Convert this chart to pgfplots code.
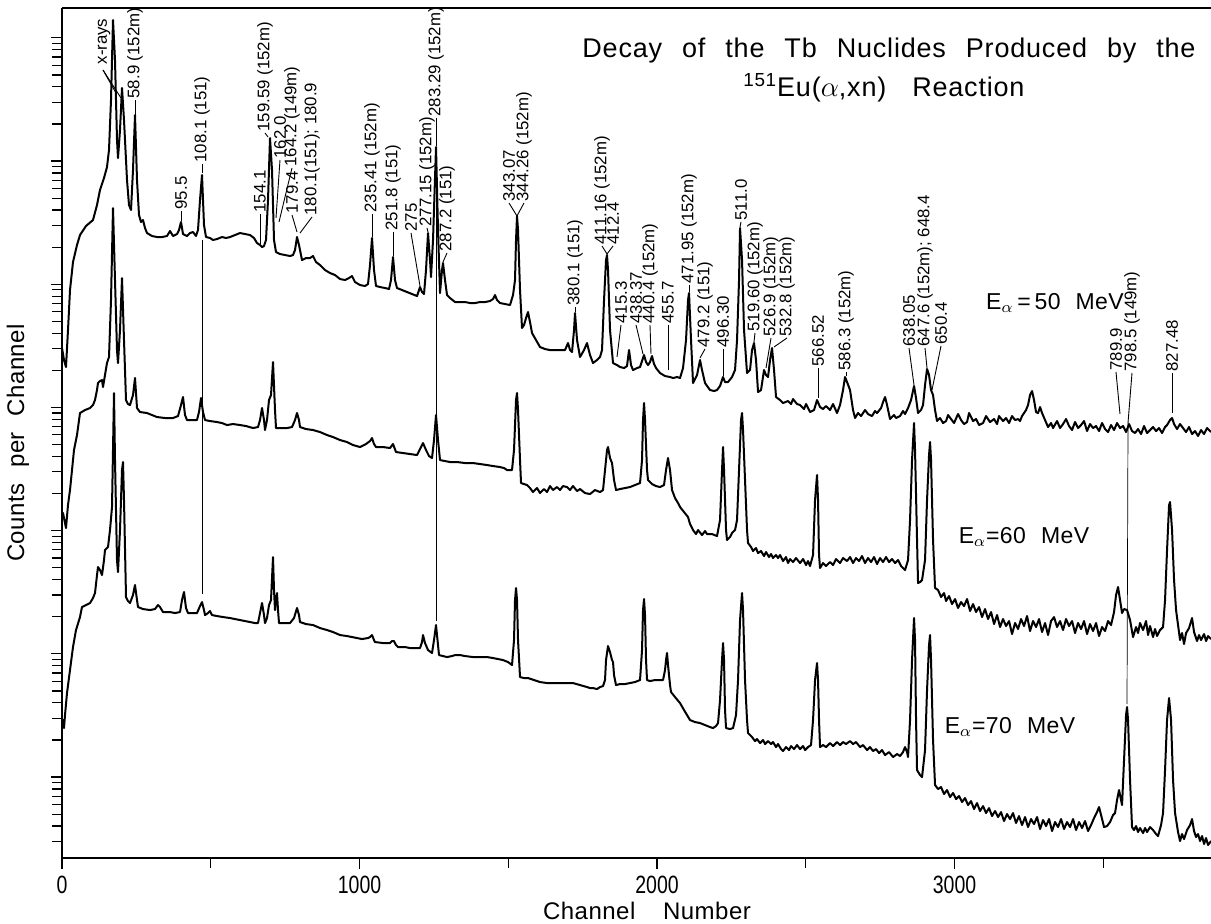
\documentclass[border=0pt]{standalone}
\usepackage{fontspec}
\setmainfont{Liberation Sans}
\newfontfamily\titlefont[WordSpace=2.4,LetterSpace=3]{Liberation Sans}
\newfontfamily\widefont[WordSpace=2.2,LetterSpace=2]{Liberation Sans}
\usepackage{pgfplots}
\pgfplotsset{compat=1.18}
\usepackage{pgfplotstable}
\newcommand\lf{\fontsize{8.4}{9}\selectfont}

% spectra: column 0 = horizontal position, column 1 = vertical position (picture units)
\pgfplotstableread[header=false,row sep=\\]{
62 348\\ 64 360\\ 66 367\\ 68 330\\ 70 290\\ 73 262\\ 77 245\\ 80 235\\ 86 226\\ 93 220\\ 97 205\\ 100 190\\ 104 178\\ 107 167\\ 109 150\\ 111 100\\ 113 20\\ 115 60\\ 117 140\\ 118 158\\ 120 130\\ 122 88\\ 124 120\\ 127 180\\ 129 205\\ 131 210\\ 133 170\\ 135 115\\ 137 180\\ 139 215\\ 141 222\\ 143 220\\ 145 228\\ 147 233\\ 152 236\\ 157 237\\ 162 237\\ 167 236\\ 170 231\\ 173 236\\ 177 234\\ 179 230\\ 181 222\\ 183 234\\ 187 236\\ 190 233\\ 193 232\\ 196 236\\ 198 230\\ 200 200\\ 202 175\\ 204 225\\ 206 237\\ 210 238\\ 213 240\\ 217 239\\ 222 237\\ 226 238\\ 230 237\\ 235 235\\ 240 233\\ 245 234\\ 250 235\\ 254 238\\ 257 243\\ 260 245\\ 262 247\\ 264 246\\ 266 240\\ 268 200\\ 270 138\\ 272 170\\ 274 240\\ 276 252\\ 280 254\\ 285 255\\ 290 256\\ 293 255\\ 295 250\\ 297 237\\ 299 245\\ 302 260\\ 306 258\\ 310 258\\ 313 256\\ 316 262\\ 320 265\\ 325 270\\ 330 273\\ 335 275\\ 340 279\\ 345 280\\ 349 278\\ 352 276\\ 355 282\\ 360 285\\ 365 286\\ 368 284\\ 370 265\\ 372 238\\ 374 270\\ 376 286\\ 380 287\\ 385 288\\ 389 289\\ 391 280\\ 393 257\\ 395 280\\ 397 288\\ 402 290\\ 407 292\\ 412 294\\ 417 296\\ 420 287\\ 422 292\\ 424 294\\ 426 270\\ 428 233\\ 430 260\\ 431 277\\ 433 240\\ 436 147\\ 438 230\\ 440 293\\ 442 270\\ 443 263\\ 445 280\\ 447 295\\ 450 298\\ 455 302\\ 460 302\\ 465 302\\ 470 303\\ 475 303\\ 480 302\\ 485 302\\ 490 301\\ 493 299\\ 495 295\\ 497 300\\ 500 303\\ 505 304\\ 510 305\\ 513 295\\ 515 280\\ 516 240\\ 517 216\\ 518 230\\ 520 290\\ 522 328\\ 524 325\\ 526 318\\ 528 312\\ 530 322\\ 532 333\\ 536 340\\ 540 347\\ 545 349\\ 550 350\\ 555 350\\ 560 350\\ 565 350\\ 568 343\\ 570 350\\ 572 352\\ 574 330\\ 575 313\\ 577 340\\ 580 357\\ 584 350\\ 587 343\\ 590 355\\ 593 363\\ 597 360\\ 600 357\\ 602 350\\ 604 300\\ 606 260\\ 607 255\\ 608 270\\ 610 330\\ 613 363\\ 617 365\\ 620 367\\ 624 368\\ 627 366\\ 629 350\\ 631 365\\ 633 370\\ 637 368\\ 640 367\\ 644 355\\ 646 362\\ 648 365\\ 650 362\\ 652 356\\ 654 364\\ 656 368\\ 660 373\\ 665 376\\ 670 377\\ 673 378\\ 677 377\\ 680 378\\ 683 368\\ 686 340\\ 688 300\\ 689 293\\ 691 340\\ 693 383\\ 697 375\\ 700 360\\ 702 370\\ 705 383\\ 710 390\\ 714 391\\ 717 390\\ 720 386\\ 723 377\\ 725 382\\ 728 382\\ 732 377\\ 735 370\\ 737 340\\ 739 280\\ 740 228\\ 742 260\\ 744 330\\ 747 373\\ 750 370\\ 752 350\\ 754 343\\ 756 360\\ 758 392\\ 761 390\\ 764 370\\ 766 375\\ 768 377\\ 770 360\\ 772 348\\ 774 370\\ 776 397\\ 780 400\\ 783 403\\ 788 401\\ 791 404\\ 793 399\\ 797 404\\ 800 405\\ 804 409\\ 806 404\\ 810 412\\ 814 410\\ 817 400\\ 820 407\\ 823 409\\ 826 406\\ 830 410\\ 833 404\\ 837 413\\ 840 405\\ 843 390\\ 845 377\\ 847 382\\ 850 390\\ 853 410\\ 855 418\\ 858 413\\ 861 416\\ 865 410\\ 868 414\\ 872 416\\ 875 411\\ 877 413\\ 881 408\\ 883 402\\ 885 397\\ 887 405\\ 890 419\\ 894 415\\ 896 418\\ 900 416\\ 903 411\\ 905 414\\ 908 408\\ 911 400\\ 914 386\\ 916 398\\ 918 413\\ 921 410\\ 923 405\\ 925 385\\ 927 369\\ 929 375\\ 931 390\\ 933 395\\ 935 410\\ 937 421\\ 940 418\\ 943 423\\ 946 421\\ 948 415\\ 951 419\\ 954 423\\ 958 414\\ 961 420\\ 964 424\\ 967 422\\ 969 413\\ 973 421\\ 976 419\\ 979 425\\ 983 423\\ 986 416\\ 990 422\\ 994 419\\ 997 424\\ 999 416\\ 1003 421\\ 1006 418\\ 1009 423\\ 1012 416\\ 1015 420\\ 1018 419\\ 1020 421\\ 1022 416\\ 1026 410\\ 1028 405\\ 1030 395\\ 1032 391\\ 1034 400\\ 1036 412\\ 1038 413\\ 1040 407\\ 1042 413\\ 1045 420\\ 1048 427\\ 1051 423\\ 1053 428\\ 1057 421\\ 1060 428\\ 1063 424\\ 1066 419\\ 1069 426\\ 1072 430\\ 1075 422\\ 1078 428\\ 1081 425\\ 1084 421\\ 1087 431\\ 1090 424\\ 1093 428\\ 1096 426\\ 1099 431\\ 1102 423\\ 1105 429\\ 1108 432\\ 1111 425\\ 1114 430\\ 1117 423\\ 1120 428\\ 1123 426\\ 1126 432\\ 1129 424\\ 1132 431\\ 1135 433\\ 1138 429\\ 1141 434\\ 1144 426\\ 1147 433\\ 1150 430\\ 1153 427\\ 1156 431\\ 1159 428\\ 1162 433\\ 1165 427\\ 1167 425\\ 1170 420\\ 1172 418\\ 1174 424\\ 1177 429\\ 1180 424\\ 1183 428\\ 1186 432\\ 1189 427\\ 1192 434\\ 1195 431\\ 1198 436\\ 1201 430\\ 1204 434\\ 1207 428\\ 1211 432\\
}\specA

\pgfplotstableread[header=false,row sep=\\]{
62 517\\ 63 513\\ 65 523\\ 66 528\\ 68 505\\ 70 490\\ 72 470\\ 74 450\\ 77 435\\ 80 413\\ 85 410\\ 90 408\\ 93 405\\ 95 400\\ 97 390\\ 98 383\\ 100 381\\ 102 380\\ 103 387\\ 105 375\\ 107 363\\ 109 357\\ 111 300\\ 113 208\\ 115 280\\ 117 350\\ 118 363\\ 120 330\\ 122 278\\ 124 340\\ 126 400\\ 128 404\\ 130 405\\ 133 395\\ 135 378\\ 137 408\\ 140 412\\ 147 413\\ 152 415\\ 157 417\\ 165 418\\ 173 418\\ 178 416\\ 181 405\\ 183 397\\ 185 415\\ 187 420\\ 192 420\\ 197 420\\ 199 412\\ 201 398\\ 203 412\\ 205 420\\ 210 421\\ 217 422\\ 222 423\\ 227 425\\ 233 424\\ 240 425\\ 246 426\\ 253 428\\ 258 427\\ 260 420\\ 262 408\\ 264 420\\ 265 430\\ 267 420\\ 269 400\\ 271 395\\ 273 362\\ 275 410\\ 276 428\\ 280 428\\ 287 428\\ 292 427\\ 295 420\\ 297 413\\ 299 420\\ 300 427\\ 306 429\\ 313 430\\ 320 432\\ 327 435\\ 333 437\\ 340 440\\ 347 442\\ 353 445\\ 360 447\\ 366 444\\ 370 441\\ 372 438\\ 374 444\\ 376 447\\ 383 447\\ 390 448\\ 393 444\\ 396 452\\ 403 453\\ 410 454\\ 417 455\\ 420 449\\ 423 443\\ 426 450\\ 429 456\\ 432 458\\ 434 440\\ 436 415\\ 438 440\\ 440 460\\ 445 461\\ 450 462\\ 457 462\\ 465 463\\ 473 463\\ 480 464\\ 487 465\\ 493 466\\ 500 467\\ 504 468\\ 507 470\\ 512 470\\ 514 450\\ 516 400\\ 517 393\\ 518 410\\ 520 460\\ 521 483\\ 524 484\\ 527 485\\ 530 488\\ 533 492\\ 537 488\\ 540 493\\ 544 489\\ 547 492\\ 550 486\\ 553 490\\ 557 487\\ 560 490\\ 563 486\\ 567 487\\ 570 490\\ 573 486\\ 577 491\\ 580 489\\ 585 493\\ 590 494\\ 595 490\\ 600 492\\ 603 490\\ 605 470\\ 607 450\\ 608 447\\ 610 458\\ 612 463\\ 614 480\\ 616 490\\ 620 489\\ 625 488\\ 630 487\\ 635 485\\ 640 483\\ 642 460\\ 643 420\\ 644 403\\ 645 420\\ 647 470\\ 648 480\\ 652 484\\ 656 486\\ 660 487\\ 664 485\\ 666 470\\ 668 458\\ 670 470\\ 672 490\\ 675 498\\ 678 503\\ 680 507\\ 684 512\\ 688 517\\ 690 524\\ 693 530\\ 696 534\\ 698 530\\ 702 535\\ 705 531\\ 707 534\\ 712 534\\ 717 536\\ 720 520\\ 722 470\\ 723 447\\ 724 470\\ 726 530\\ 727 540\\ 730 537\\ 732 533\\ 735 530\\ 737 520\\ 739 470\\ 741 420\\ 742 413\\ 743 430\\ 745 480\\ 747 530\\ 748 543\\ 751 547\\ 753 551\\ 756 548\\ 758 553\\ 761 551\\ 764 556\\ 766 552\\ 769 557\\ 771 554\\ 773 558\\ 776 555\\ 778 558\\ 780 555\\ 783 561\\ 786 557\\ 788 563\\ 790 559\\ 793 562\\ 796 558\\ 800 563\\ 803 559\\ 806 565\\ 808 561\\ 810 566\\ 813 555\\ 815 500\\ 817 475\\ 818 500\\ 819 555\\ 820 568\\ 823 563\\ 826 566\\ 830 562\\ 833 565\\ 836 559\\ 840 563\\ 843 558\\ 847 561\\ 850 557\\ 853 563\\ 856 558\\ 859 561\\ 862 556\\ 865 563\\ 868 558\\ 871 562\\ 874 557\\ 877 564\\ 880 558\\ 883 562\\ 886 557\\ 889 562\\ 892 559\\ 895 563\\ 898 560\\ 901 566\\ 905 570\\ 908 560\\ 910 520\\ 912 460\\ 914 423\\ 915 450\\ 917 540\\ 918 583\\ 920 582\\ 922 580\\ 925 560\\ 927 500\\ 929 455\\ 930 442\\ 931 460\\ 933 540\\ 935 588\\ 938 590\\ 941 597\\ 944 593\\ 946 601\\ 949 596\\ 952 604\\ 955 599\\ 958 608\\ 961 602\\ 964 606\\ 967 599\\ 970 611\\ 973 604\\ 976 612\\ 979 607\\ 982 617\\ 985 609\\ 988 619\\ 991 612\\ 994 624\\ 997 615\\ 1000 627\\ 1003 619\\ 1006 626\\ 1009 621\\ 1012 634\\ 1015 623\\ 1018 629\\ 1021 619\\ 1024 626\\ 1027 616\\ 1030 631\\ 1033 621\\ 1036 627\\ 1039 619\\ 1042 632\\ 1045 623\\ 1048 635\\ 1051 621\\ 1054 617\\ 1057 627\\ 1060 621\\ 1063 630\\ 1066 619\\ 1069 626\\ 1072 621\\ 1075 633\\ 1078 623\\ 1081 629\\ 1084 621\\ 1087 634\\ 1090 624\\ 1093 631\\ 1096 623\\ 1099 636\\ 1102 627\\ 1105 631\\ 1108 621\\ 1111 625\\ 1114 612\\ 1116 595\\ 1118 587\\ 1120 600\\ 1122 613\\ 1124 609\\ 1127 610\\ 1130 620\\ 1133 637\\ 1136 627\\ 1138 633\\ 1140 623\\ 1143 630\\ 1146 621\\ 1148 635\\ 1150 626\\ 1153 637\\ 1155 629\\ 1157 636\\ 1160 630\\ 1163 627\\ 1165 600\\ 1167 550\\ 1169 505\\ 1170 502\\ 1172 530\\ 1174 580\\ 1176 610\\ 1178 625\\ 1180 640\\ 1182 633\\ 1184 644\\ 1186 633\\ 1189 628\\ 1192 618\\ 1194 632\\ 1197 641\\ 1199 635\\ 1201 640\\ 1204 634\\ 1206 641\\ 1208 636\\ 1211 639\\
}\specB

\pgfplotstableread[header=false,row sep=\\]{
62 722\\ 63 720\\ 64 728\\ 65 715\\ 67 693\\ 70 670\\ 73 647\\ 76 630\\ 80 617\\ 82 607\\ 86 605\\ 90 603\\ 93 598\\ 95 593\\ 97 575\\ 98 567\\ 100 570\\ 102 575\\ 104 560\\ 105 550\\ 108 547\\ 110 530\\ 112 507\\ 113 450\\ 114 393\\ 115 460\\ 117 560\\ 118 572\\ 120 530\\ 122 470\\ 123 462\\ 124 500\\ 126 597\\ 128 601\\ 130 603\\ 133 595\\ 135 585\\ 137 600\\ 138 607\\ 143 609\\ 150 610\\ 155 609\\ 158 605\\ 160 607\\ 163 612\\ 170 612\\ 175 613\\ 180 612\\ 182 600\\ 184 592\\ 186 608\\ 188 613\\ 193 613\\ 197 613\\ 200 606\\ 202 602\\ 204 610\\ 205 615\\ 208 613\\ 210 611\\ 212 615\\ 217 616\\ 223 617\\ 230 618\\ 235 619\\ 240 620\\ 245 621\\ 250 622\\ 255 623\\ 258 623\\ 260 613\\ 262 603\\ 264 615\\ 265 623\\ 267 618\\ 269 605\\ 271 600\\ 273 557\\ 274 590\\ 275 610\\ 276 600\\ 277 593\\ 278 610\\ 279 623\\ 284 623\\ 290 623\\ 294 618\\ 297 608\\ 299 615\\ 300 622\\ 306 624\\ 313 625\\ 320 628\\ 327 630\\ 333 632\\ 340 635\\ 347 636\\ 352 637\\ 357 638\\ 362 639\\ 368 638\\ 370 637\\ 372 635\\ 374 640\\ 375 642\\ 383 643\\ 390 643\\ 392 641\\ 394 641\\ 396 645\\ 398 647\\ 405 647\\ 410 648\\ 415 648\\ 420 648\\ 422 642\\ 423 635\\ 425 643\\ 428 650\\ 432 653\\ 434 640\\ 436 625\\ 438 645\\ 439 655\\ 443 656\\ 447 657\\ 452 656\\ 455 655\\ 460 655\\ 465 656\\ 473 657\\ 480 657\\ 487 657\\ 493 658\\ 498 659\\ 503 660\\ 508 662\\ 512 665\\ 514 640\\ 515 600\\ 516 588\\ 517 600\\ 518 640\\ 520 677\\ 524 678\\ 528 678\\ 534 680\\ 540 682\\ 547 683\\ 553 683\\ 560 683\\ 567 683\\ 573 683\\ 580 685\\ 587 687\\ 590 688\\ 593 688\\ 597 689\\ 600 687\\ 603 686\\ 605 680\\ 606 660\\ 608 646\\ 610 652\\ 612 660\\ 613 662\\ 614 675\\ 616 685\\ 620 684\\ 625 684\\ 630 683\\ 635 682\\ 640 680\\ 642 650\\ 643 610\\ 644 599\\ 645 615\\ 646 660\\ 647 680\\ 650 681\\ 655 680\\ 660 680\\ 663 680\\ 665 670\\ 666 660\\ 667 653\\ 668 665\\ 670 685\\ 671 692\\ 675 697\\ 680 703\\ 684 710\\ 687 715\\ 690 720\\ 695 722\\ 700 723\\ 705 725\\ 710 727\\ 713 728\\ 716 726\\ 718 723\\ 720 700\\ 722 660\\ 723 643\\ 724 660\\ 725 710\\ 726 728\\ 730 729\\ 733 728\\ 736 715\\ 738 680\\ 740 620\\ 742 593\\ 743 610\\ 745 680\\ 747 720\\ 748 733\\ 752 737\\ 755 741\\ 757 739\\ 760 743\\ 763 740\\ 765 744\\ 768 741\\ 771 744\\ 773 742\\ 776 747\\ 778 744\\ 781 749\\ 783 751\\ 786 747\\ 789 750\\ 791 746\\ 794 749\\ 797 745\\ 800 749\\ 803 746\\ 805 750\\ 808 747\\ 811 745\\ 813 720\\ 815 680\\ 817 663\\ 818 680\\ 819 720\\ 820 747\\ 823 745\\ 826 747\\ 830 743\\ 833 746\\ 837 742\\ 840 745\\ 843 742\\ 846 744\\ 850 741\\ 853 744\\ 856 742\\ 860 747\\ 863 745\\ 867 750\\ 870 747\\ 873 751\\ 876 749\\ 879 753\\ 882 750\\ 885 755\\ 889 752\\ 893 757\\ 897 754\\ 900 756\\ 903 752\\ 905 747\\ 907 752\\ 908 757\\ 910 720\\ 912 660\\ 914 618\\ 915 640\\ 916 720\\ 917 770\\ 920 775\\ 922 777\\ 925 750\\ 927 690\\ 929 645\\ 930 635\\ 931 660\\ 933 740\\ 935 785\\ 938 789\\ 941 787\\ 944 794\\ 947 790\\ 950 797\\ 953 793\\ 956 799\\ 959 796\\ 962 802\\ 965 798\\ 968 805\\ 971 801\\ 974 809\\ 977 803\\ 980 811\\ 983 806\\ 986 813\\ 989 808\\ 992 816\\ 995 811\\ 998 817\\ 1001 812\\ 1004 821\\ 1007 814\\ 1010 819\\ 1013 813\\ 1016 823\\ 1019 816\\ 1022 825\\ 1025 817\\ 1028 827\\ 1031 819\\ 1034 824\\ 1037 817\\ 1040 829\\ 1043 820\\ 1046 826\\ 1049 819\\ 1052 831\\ 1055 822\\ 1058 827\\ 1061 819\\ 1064 829\\ 1067 822\\ 1070 827\\ 1073 819\\ 1076 830\\ 1079 822\\ 1082 828\\ 1085 821\\ 1088 831\\ 1091 825\\ 1094 818\\ 1097 812\\ 1099 807\\ 1101 815\\ 1104 827\\ 1107 826\\ 1110 822\\ 1113 815\\ 1115 813\\ 1117 800\\ 1119 790\\ 1121 800\\ 1122 805\\ 1124 760\\ 1126 715\\ 1127 707\\ 1128 720\\ 1130 780\\ 1132 827\\ 1134 830\\ 1136 826\\ 1138 832\\ 1140 828\\ 1143 833\\ 1145 828\\ 1147 832\\ 1150 827\\ 1153 830\\ 1156 834\\ 1158 836\\ 1161 825\\ 1163 813\\ 1165 770\\ 1167 720\\ 1169 698\\ 1171 720\\ 1173 780\\ 1175 813\\ 1178 832\\ 1180 841\\ 1182 834\\ 1184 839\\ 1187 830\\ 1190 825\\ 1192 819\\ 1194 831\\ 1196 837\\ 1198 834\\ 1200 841\\ 1202 836\\ 1204 844\\ 1206 838\\ 1208 845\\ 1211 841\\
}\specC

\newcommand\lbl[5]{\draw (#1,#2) -- (#3,#4) node[rotate=90,anchor=west,inner sep=0.6pt,font=\lf]{#5};}

\begin{document}
\begin{tikzpicture}
\useasboundingbox (0,0) rectangle (605.5pt,461.5pt);
\begin{axis}[
  at={(31pt,32.5pt)}, anchor=south west,
  scale only axis, width=574.5pt, height=425pt,
  xmin=0, xmax=3862, ymin=0.343, ymax=7.242,
  axis x line*=box, axis y line*=left,
  axis line style={line width=0.75pt},
  xtick pos=bottom, ytick pos=left,
  tick align=outside,
  major tick length=5.5pt, minor tick length=5pt,
  every tick/.style={black, line width=0.6pt},
  xtick={0,1000,2000,3000}, xticklabels={0,1000,2000,3000},
  minor xtick={500,1500,2500,3500},
  xticklabel style={font=\fontsize{12.5}{14}\selectfont, xscale=0.78, yshift=0pt},
  ytick={1,2,3,4,5,6,7}, yticklabels={},
  minor ytick={0.47712,0.60206,0.69897,0.77815,0.84510,0.90309,0.95424,
   1.30103,1.47712,1.60206,1.69897,1.77815,1.84510,1.90309,1.95424,
   2.30103,2.47712,2.60206,2.69897,2.77815,2.84510,2.90309,2.95424,
   3.30103,3.47712,3.60206,3.69897,3.77815,3.84510,3.90309,3.95424,
   4.30103,4.47712,4.60206,4.69897,4.77815,4.84510,4.90309,4.95424,
   5.30103,5.47712,5.60206,5.69897,5.77815,5.84510,5.90309,5.95424,
   6.30103,6.47712,6.60206,6.69897,6.77815,6.84510,6.90309,6.95424},
]
\addplot[black, line width=1pt, line join=round] table[x expr={(\thisrowno{0}-62)*3.3613}, y expr={1+(777-\thisrowno{1})/123.2}] {\specA};
\addplot[black, line width=1pt, line join=round] table[x expr={(\thisrowno{0}-62)*3.3613}, y expr={1+(777-\thisrowno{1})/123.2}] {\specB};
\addplot[black, line width=1pt, line join=round] table[x expr={(\thisrowno{0}-62)*3.3613}, y expr={1+(777-\thisrowno{1})/123.2}] {\specC};
\end{axis}

\begin{scope}[x=0.5pt,y=-0.5pt,shift={(0pt,461.5pt)},line width=0.45pt]
% title
\node[anchor=base,font=\titlefont\fontsize{13.5}{15}\selectfont] at (889,58) {Decay of the Tb Nuclides Produced by the};
\node[anchor=base,font=\titlefont\fontsize{13.5}{15}\selectfont] at (884,97) {\textsuperscript{151}Eu($\alpha$,xn)\hspace{3pt} Reaction};
% energies
\node[font=\widefont\fontsize{11.5}{13}\selectfont] at (1055,303) {E$_{\alpha}$\,=\,50 MeV};
\node[font=\widefont\fontsize{11.5}{13}\selectfont] at (1024,537) {E$_{\alpha}$=60 MeV};
\node[font=\widefont\fontsize{11.5}{13}\selectfont] at (1010,727) {E$_{\alpha}$=70 MeV};
% axis labels
\node[rotate=90,font=\widefont\fontsize{12}{14}\selectfont] at (18,443) {Counts per Channel};
\node[font=\widefont\fontsize{12}{14}\selectfont] at (647,911) {Channel\hspace{6pt} Number};
% linking lines
\draw[line width=0.35pt] (202,240) -- (202,594);
\draw[line width=0.35pt] (436,148) -- (436,621);
\draw[line width=0.35pt] (1128,423) -- (1127,704);
% labels
\node[rotate=90,anchor=west,inner sep=0.6pt,font=\lf] at (104,66) {x-rays};
\draw (103,70) -- (116,93);
\draw (103,70) -- (121,98);
\lbl{135}{116}{135}{100}{58.9 (152m)}
\lbl{181}{221}{181}{211}{95.5}
\lbl{202}{173}{202}{164}{108.1 (151)}
\lbl{260}{244}{260}{214}{154.1}
\lbl{268}{137}{265}{133}{159.59 (152m)}
\lbl{276}{218}{280}{160}{162.0}
\lbl{279}{222}{292}{168}{164.2 (149m)}
\lbl{297}{232}{292}{215}{179.4}
\lbl{300}{233}{312}{217}{180.1(151); 180.9}
\lbl{372}{237}{372}{214}{235.41 (152m)}
\lbl{393}{256}{393}{232}{251.8 (151)}
\lbl{420}{286}{411}{233}{275}
\lbl{428}{232}{427}{228}{277.15 (152m)}
\lbl{436}{146}{436}{118}{283.29 (152m)}
\lbl{443}{262}{447}{253}{287.2 (151)}
\lbl{517}{216}{509}{203}{343.07}
\lbl{517}{216}{524}{203}{344.26 (152m)}
\lbl{575}{312}{575}{307}{380.1 (151)}
\lbl{607}{254}{602}{246}{411.16 (152m)}
\lbl{607}{254}{613}{246}{412.4}
\lbl{617}{357}{621}{325}{415.3}
\lbl{643}{354}{636}{325}{438.37}
\lbl{651}{354}{650}{325}{440.4 (152m)}
\lbl{668}{370}{668}{325}{455.7}
\lbl{689}{292}{689}{285}{471.95 (152m)}
\lbl{700}{358}{705}{349}{479.2 (151)}
\lbl{723}{376}{723}{349}{496.30}
\lbl{740}{227}{741}{222}{511.0}
\lbl{754}{342}{755}{333}{519.60 (152m)}
\lbl{766}{368}{771}{338}{526.9 (152m)}
\lbl{774}{347}{787}{338}{532.8 (152m)}
\lbl{818}{398}{818}{368}{566.52}
\lbl{846}{376}{846}{372}{586.3 (152m)}
\lbl{914}{385}{909}{348}{638.05}
\lbl{927}{368}{925}{348}{647.6 (152m); 648.4}
\lbl{932}{390}{941}{346}{650.4}
\lbl{1120}{414}{1116}{372}{789.9}
\lbl{1128}{423}{1132}{373}{798.5 (149m)}
\lbl{1172}{413}{1172}{373}{827.48}
\end{scope}
\end{tikzpicture}
\end{document}
